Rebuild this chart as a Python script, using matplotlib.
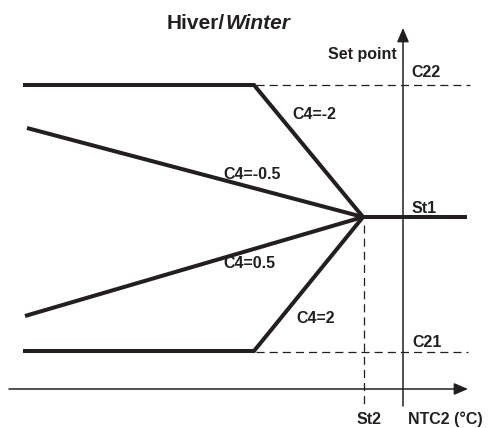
import matplotlib
matplotlib.use("Agg")
import matplotlib.pyplot as plt

# Schematic coordinates (pixel-like units of the diagram)
c4_m2_x = [23, 254, 363]
c4_m2_y = [85, 85, 217]
c4_m05_x = [27, 363]
c4_m05_y = [128, 217]
c4_p05_x = [25, 363]
c4_p05_y = [316, 217]
c4_p2_x = [23, 254, 363]
c4_p2_y = [351, 351, 217]
st1_x = [363, 467]
st1_y = [217, 217]

c22_dash_x = [256, 470]
c22_dash_y = [85, 85]
c21_dash_x = [256, 468]
c21_dash_y = [352, 352]
st2_dash_x = [364, 364]
st2_dash_y = [225, 407]

xaxis_x = [9, 468]
xaxis_y = [389, 389]
yaxis_x = [403, 403]
yaxis_y = [406, 28]

labels = [
    ("Set point", 397, 59, "right"),
    ("C22", 411, 77, "left"),
    ("C4=-2", 292, 119, "left"),
    ("C4=-0.5", 223, 179, "left"),
    ("St1", 412, 213, "left"),
    ("C4=0.5", 223, 268, "left"),
    ("C4=2", 296, 323, "left"),
    ("C21", 412, 347, "left"),
    ("St2", 357, 424, "left"),
    ("NTC2 (°C)", 408, 424, "left"),
]

plt.rcParams['font.family'] = ['Liberation Sans', 'DejaVu Sans']

fig = plt.figure(figsize=(4.88, 4.28), dpi=100)
ax = fig.add_axes([0, 0, 1, 1])
ax.set_xlim(0, 488)
ax.set_ylim(428, 0)
ax.axis('off')

thick = dict(color='#231f20', lw=2.9, solid_joinstyle='miter', solid_capstyle='butt')
for xs, ys in [(c4_m2_x, c4_m2_y), (c4_m05_x, c4_m05_y), (c4_p05_x, c4_p05_y),
               (c4_p2_x, c4_p2_y), (st1_x, st1_y)]:
    ax.plot(xs, ys, **thick)

dash = dict(color='#231f20', lw=0.9, dashes=(6.5, 4))
ax.plot(c22_dash_x, c22_dash_y, **dash)
ax.plot(c21_dash_x, c21_dash_y, **dash)
ax.plot(st2_dash_x, st2_dash_y, **dash)

arrow = dict(arrowstyle='-|>,head_length=0.7,head_width=0.3', mutation_scale=12,
             color='#231f20', lw=1.1, shrinkA=0, shrinkB=0)
ax.annotate('', xy=(xaxis_x[1], xaxis_y[1]), xytext=(xaxis_x[0], xaxis_y[0]), arrowprops=arrow)
ax.annotate('', xy=(yaxis_x[1], yaxis_y[1]), xytext=(yaxis_x[0], yaxis_y[0]), arrowprops=arrow)

for txt, x, y, ha in labels:
    ax.text(x, y, txt, ha=ha, va='baseline', fontsize=11.5, fontweight='bold', color='#231f20')

ax.text(225, 29, "Hiver/", ha='right', va='baseline', fontsize=15, fontweight='bold', color='#231f20')
ax.text(225, 29, "Winter", ha='left', va='baseline', fontsize=15, fontweight='bold',
        fontstyle='italic', color='#231f20')

fig.savefig("out.png", dpi=100)
